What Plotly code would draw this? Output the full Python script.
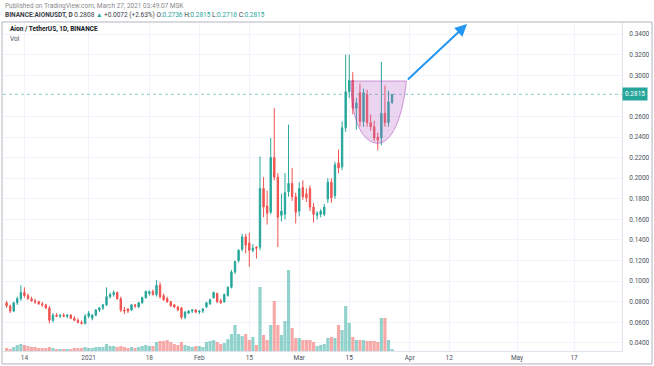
import pandas as pd
import plotly.graph_objects as go

# ---- data (daily AION/USDT, Binance) ----
dates = pd.date_range("2020-12-09", "2021-03-27", freq="D")

open_ = [
    .079, .076, .071, .079, .083, .089, .086, .083, .081, .080, .078, .077, .074, .062, .067, .066, .067, .066, .067, .064, .062, .060, .059,
    .066, .064, .067, .072, .074, .077, .085, .087, .089, .083, .072, .073, .072, .077, .075, .079, .084, .088, .090, .087, .096, .086, .083, .080, .077, .075, .074, .065, .069, .071, .072,
    .070, .071, .075, .078, .084, .088, .081, .080, .086, .094, .109, .120, .131, .143, .137, .130, .133, .133, .190, .173, .167, .220, .201, .164, .165, .187, .195, .182,
    .168, .191, .185, .190, .172, .164, .165, .165, .180, .196, .183, .215, .211, .249, .284, .295, .268, .283, .255, .281, .254, .250, .240, .239, .263, .254, .2736,
]
high = [
    .081, .077, .080, .085, .096, .094, .088, .085, .083, .081, .080, .078, .076, .069, .069, .068, .069, .068, .068, .066, .064, .062, .068,
    .071, .068, .073, .075, .078, .094, .089, .091, .090, .085, .075, .074, .078, .078, .080, .085, .091, .091, .092, .101, .099, .088, .085, .081, .078, .076, .075, .071, .072, .073, .073,
    .072, .074, .080, .083, .090, .089, .083, .088, .095, .111, .120, .131, .146, .146, .147, .136, .134, .221, .201, .188, .239, .268, .205, .185, .205, .252, .210, .186,
    .196, .198, .190, .193, .176, .168, .170, .175, .200, .200, .216, .228, .255, .320, .320, .303, .278, .292, .287, .286, .262, .256, .244, .313, .290, .285, .2815,
]
low = [
    .074, .069, .070, .077, .081, .084, .082, .080, .078, .077, .075, .073, .059, .060, .065, .064, .065, .064, .063, .061, .059, .058, .058,
    .064, .062, .066, .070, .072, .076, .083, .085, .082, .070, .068, .069, .071, .074, .074, .078, .083, .086, .086, .085, .083, .081, .079, .075, .074, .071, .063, .063, .068, .069, .069,
    .068, .069, .074, .077, .083, .079, .078, .079, .085, .093, .107, .118, .129, .127, .114, .128, .122, .130, .162, .155, .165, .198, .133, .158, .160, .182, .178, .156,
    .163, .179, .177, .168, .157, .160, .162, .163, .176, .176, .180, .205, .208, .245, .278, .262, .247, .250, .250, .250, .246, .236, .227, .232, .250, .250, .2718,
]
close = [
    .076, .071, .079, .083, .089, .086, .083, .081, .080, .078, .077, .074, .062, .067, .066, .067, .066, .067, .064, .062, .060, .059, .066,
    .069, .067, .072, .074, .077, .085, .087, .089, .083, .072, .071, .071, .077, .076, .079, .084, .090, .090, .087, .096, .085, .082, .080, .076, .075, .072, .065, .070, .071, .072, .070,
    .071, .073, .079, .082, .089, .080, .079, .087, .094, .109, .119, .130, .143, .135, .130, .132, .132, .190, .172, .166, .220, .201, .162, .168, .186, .195, .182, .167,
    .190, .182, .181, .172, .165, .166, .168, .172, .196, .181, .213, .210, .249, .284, .295, .268, .273, .255, .283, .254, .250, .239, .237, .263, .254, .274, .2815,
]
volume = [  # x100k AION
    3, 2, 4, 6, 7, 6, 5, 4, 4, 3, 3, 3, 4, 3, 2, 2, 2, 2, 2, 3, 3, 3, 4,
    3, 3, 4, 4, 4, 7, 5, 5, 4, 5, 4, 3, 4, 3, 4, 5, 6, 5, 5, 9, 10, 10, 11, 9, 7, 6, 9, 6, 5, 4, 5,
    5, 4, 9, 10, 11, 9, 7, 8, 12, 17, 26, 17, 15, 17, 11, 14, 6, 64, 16, 11, 26, 50, 26, 16, 30, 81, 23, 13,
    13, 11, 11, 11, 9, 5, 6, 7, 13, 14, 13, 26, 21, 45, 28, 14, 11, 11, 11, 10, 10, 10, 9, 33, 33, 11, 2,
]

tick_dates = ["2020-12-14", "2021-01-01", "2021-01-18", "2021-02-01", "2021-02-15", "2021-03-01",
              "2021-03-15", "2021-04-01", "2021-04-12", "2021-05-01", "2021-05-17"]
tick_text = ["14", "2021", "18", "Feb", "15", "Mar", "15", "Apr", "12", "May", "17"]
# 0.2800 is hidden behind the last-price label in the original
price_ticks = [0.04, 0.06, 0.08, 0.10, 0.12, 0.14, 0.16, 0.18, 0.20, 0.22, 0.24, 0.26, 0.30, 0.32, 0.34]
last_price = 0.2815

# drawing annotations (cup and projected arrow), in data coordinates
cup_left, cup_bottom, cup_right = "2021-03-15_12:00", "2021-03-23", "2021-03-31"
cup_rim, cup_low = 0.2944, 0.234
arrow_tail = ("2021-03-31", 0.2944)
arrow_head = ("2021-04-17", 0.3497)

UP, DOWN = "#26a69a", "#ef5350"
vol_colors = ["rgba(38,166,154,0.5)" if c >= o else "rgba(239,83,80,0.5)" for o, c in zip(open_, close)]

fig = go.Figure()
fig.add_trace(go.Bar(x=dates, y=volume, marker=dict(color=vol_colors, line=dict(width=0)),
                     yaxis="y2", hoverinfo="skip", showlegend=False))
fig.add_trace(go.Candlestick(
    x=dates, open=open_, high=high, low=low, close=close,
    increasing=dict(line=dict(color=UP, width=1), fillcolor=UP),
    decreasing=dict(line=dict(color=DOWN, width=1), fillcolor=DOWN),
    whiskerwidth=0, showlegend=False))

FONT = "Roboto, Liberation Sans, sans-serif"
fig.update_layout(
    width=654, height=366,
    margin=dict(l=3, r=32, t=22, b=15),
    paper_bgcolor="white", plot_bgcolor="white",
    font=dict(family=FONT, size=7, color="#4c525e"),
    boxgap=0.45, bargap=0.12,
    xaxis=dict(type="date", range=["2020-12-08", "2021-05-30 10:00"],
               tickvals=tick_dates, ticktext=tick_text, tickfont=dict(size=6.5, color="#4c525e"),
               showgrid=True, gridcolor="#f0f3fa", gridwidth=1, zeroline=False,
               rangeslider=dict(visible=False), ticks="", ticklen=0, ticklabelstandoff=0,
               showline=True, linecolor="#e0e3eb"),
    yaxis=dict(side="right", range=[0.0322, 0.3517], tickvals=price_ticks, tickformat=".4f",
               tickfont=dict(size=6.5, color="#4c525e"), showgrid=True, gridcolor="#f0f3fa",
               zeroline=False, ticks="", ticklen=0, ticklabelstandoff=5, showline=True, linecolor="#e0e3eb"),
    yaxis2=dict(overlaying="y", range=[0, 329], visible=False),
)

# current price line + label
fig.add_shape(type="line", xref="paper", x0=0, x1=1, yref="y", y0=last_price, y1=last_price,
              line=dict(color="rgba(38,166,154,0.55)", width=1, dash="dot"))
fig.add_annotation(xref="paper", x=1.0, yref="y", y=last_price, xanchor="left", yanchor="middle",
                   text=f"{last_price:.4f}", showarrow=False, bgcolor=UP, borderpad=2, xshift=0,
                   font=dict(size=6.5, color="white"))

# cup drawing
fig.add_shape(type="path", xref="x", yref="y",
              path=(f"M {cup_left},{cup_rim} C {cup_left},{cup_low + 0.02} 2021-03-19,{cup_low} {cup_bottom},{cup_low} "
                    f"C 2021-03-27,{cup_low} 2021-03-30,{cup_low + 0.025} {cup_right},{cup_rim} Z"),
              fillcolor="rgba(186,104,200,0.28)", line=dict(color="rgba(156,39,176,0.45)", width=1))
# projection arrow
fig.add_annotation(x=arrow_head[0], y=arrow_head[1], ax=arrow_tail[0], ay=arrow_tail[1],
                   xref="x", yref="y", axref="x", ayref="y", text="", showarrow=True,
                   arrowhead=2, arrowsize=1.2, arrowwidth=2, arrowcolor="#2196f3")

# frame
fig.add_shape(type="rect", xref="paper", yref="paper", x0=-0.0016, x1=1.0485, y0=-0.0395, y1=1.0,
              line=dict(color="#b2b5be", width=1), fillcolor="rgba(0,0,0,0)", layer="above")

# header texts
fig.add_annotation(xref="paper", yref="paper", x=0, y=1.0486, xanchor="left", yanchor="middle",
                   showarrow=False, text="Published on TradingView.com, March 27, 2021 03:49:07 MSK",
                   font=dict(size=6.5, color="#8a8a8a"))
hdr = ("<b>BINANCE:AIONUSDT, D</b> 0.2808 <span style='color:#26a69a'>▲</span> +0.0072 (+2.63%) "
       "O:<span style='color:#26a69a'>0.2736</span> H:<span style='color:#26a69a'>0.2815</span> "
       "L:<span style='color:#26a69a'>0.2718</span> C:<span style='color:#26a69a'>0.2815</span>")
fig.add_annotation(xref="paper", yref="paper", x=0, y=1.0213, xanchor="left", yanchor="middle",
                   showarrow=False, text=hdr, font=dict(size=6.5, color="#3a3e48"))
fig.add_annotation(xref="paper", yref="paper", x=0.008, y=0.9787, xanchor="left", yanchor="middle",
                   showarrow=False, text="<b>Aion / TetherUS, 1D, BINANCE</b>",
                   font=dict(size=6.5, color="#131722"))
fig.add_annotation(xref="paper", yref="paper", x=0.008, y=0.9483, xanchor="left", yanchor="middle",
                   showarrow=False, text="Vol", font=dict(size=6.5, color="#4c525e"))

fig.write_html("out.html", config={"displayModeBar": False},
               post_script="document.body.style.margin='0';document.body.style.overflow='hidden';")
